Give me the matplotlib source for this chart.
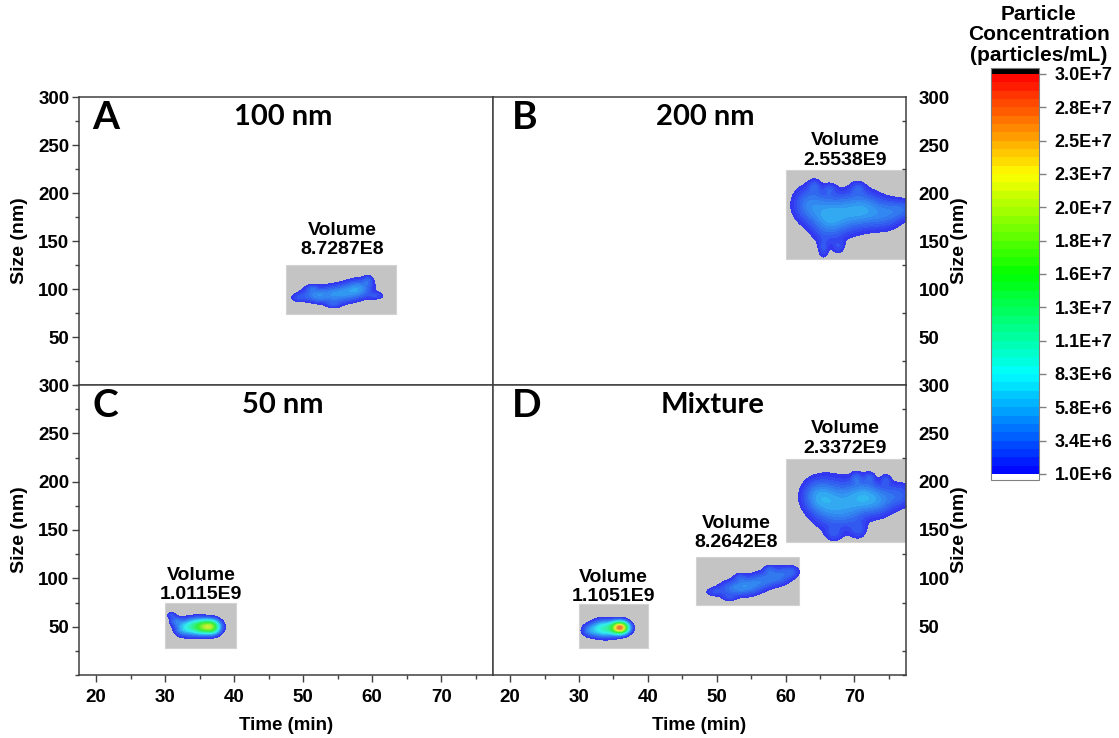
import numpy as np
import matplotlib
matplotlib.use("Agg")
import matplotlib.pyplot as plt
from matplotlib.colors import LinearSegmentedColormap, ListedColormap, Normalize
from matplotlib.patches import Rectangle
from matplotlib.cm import ScalarMappable
from matplotlib.ticker import MultipleLocator

plt.rcParams['font.family'] = ['Liberation Sans', 'DejaVu Sans']
plt.rcParams['font.weight'] = 'bold'

# --- datos ---
panels = ['A', 'B', 'C', 'D']
titles = {'A': '100 nm', 'B': '200 nm', 'C': '50 nm', 'D': 'Mixture'}
title_x = {'A': 47.1, 'B': 48.3, 'C': 47.1, 'D': 49.4}

# zonas integradas (t0, t1, s0, s1)
boxes = {
    'A': [(47.5, 63.5, 74, 125)],
    'B': [(60, 80, 131, 224)],
    'C': [(30, 40.2, 28, 74)],
    'D': [(30, 40, 28, 73), (47, 62, 72, 122), (60, 80, 137.5, 223)],
}

# etiquetas de volumen (t, s, texto)
volumes = {
    'A': [(55.6, 132, '8.7287E8')],
    'B': [(68.7, 225, '2.5538E9')],
    'C': [(35.2, 74, '1.0115E9')],
    'D': [(35.0, 72, '1.1051E9'), (52.8, 128, '8.2642E8'), (68.7, 226, '2.3372E9')],
}

# picos de concentracion (t, size, ancho t, ancho size, conc)
peaks_100 = [(49.3, 91, 0.8, 3.0, 1.8e6), (51.3, 95, 1.3, 5.5, 2.6e6),
             (52.2, 92, 1.0, 4.0, 1.5e6), (54.4, 94, 1.5, 6.5, 3.8e6),
             (56.7, 97, 1.4, 6.5, 2.8e6), (58.3, 101, 1.3, 6.5, 3.5e6),
             (59.4, 109, 0.5, 3.5, 2.0e6), (60.6, 93, 0.8, 2.5, 2.0e6),
             (51.3, 101, 0.5, 2.5, 1.5e6), (54.4, 84, 0.7, 2.5, 1.5e6)]
peaks_200 = [(63.3, 188, 1.6, 13, 3.5e6), (66.2, 174, 1.7, 16, 4.5e6),
             (69.1, 180, 1.7, 14, 3.5e6), (71.6, 183, 1.6, 13, 3.5e6),
             (74.5, 178, 1.7, 11, 3.2e6), (77.2, 183, 1.5, 7, 2.5e6),
             (65.5, 142, 0.5, 7, 1.8e6), (67.7, 144, 0.6, 5, 1.6e6),
             (64.2, 207, 0.6, 5, 1.8e6), (70.5, 205, 0.7, 5, 1.8e6),
             (66.4, 204, 0.6, 4, 1.6e6)]
peaks_50 = [(36.3, 50, 1.0, 4.5, 1.5e7), (34.5, 50, 1.3, 5.5, 1.1e7),
            (37.0, 49, 0.7, 5.0, 4.0e6), (32.5, 48, 0.8, 5.0, 3.5e6),
            (31.5, 56, 0.6, 3.0, 3.0e6), (30.9, 62, 0.45, 2.0, 2.2e6),
            (35.2, 98.5, 0.25, 1.0, 1.2e6)]
peaks_mix = [(36.0, 49, 0.8, 4.0, 2.6e7), (33.8, 48, 1.3, 5.5, 1.0e7),
             (31.6, 46, 0.8, 4.0, 3.0e6),
             (49.6, 86, 0.9, 3.0, 1.8e6), (52.0, 89, 1.4, 5.5, 2.6e6),
             (54.4, 92, 1.5, 6.5, 3.8e6), (56.8, 98, 1.3, 6.0, 2.8e6),
             (59.1, 103, 1.3, 6.5, 3.2e6), (60.9, 107, 0.8, 4.0, 2.0e6),
             (53.4, 101, 0.6, 3.0, 1.5e6), (57.6, 109, 0.5, 3.0, 1.6e6),
             (51.8, 80, 0.7, 2.5, 1.5e6),
             (64.3, 185, 1.5, 12, 3.2e6), (66.3, 178, 1.7, 17, 3.8e6),
             (69.1, 175, 1.7, 16, 3.6e6), (71.3, 186, 1.5, 12, 3.4e6),
             (73.5, 180, 1.6, 11, 3.4e6), (76.6, 186, 1.6, 9, 2.6e6),
             (70.6, 150, 0.8, 6, 1.8e6), (67.0, 146, 0.8, 5, 1.6e6),
             (70.3, 204, 0.5, 4, 1.8e6), (72.2, 204, 0.5, 4, 1.8e6),
             (74.6, 202, 0.5, 4, 1.8e6)]
peaks = {'A': peaks_100, 'B': peaks_200, 'C': peaks_50, 'D': peaks_mix}

cbar_labels = ['1.0E+6', '3.4E+6', '5.8E+6', '8.3E+6', '1.1E+7', '1.3E+7', '1.6E+7',
               '1.8E+7', '2.0E+7', '2.3E+7', '2.5E+7', '2.8E+7', '3.0E+7']
cmin, cmax = 1e6, 3e7

# --- colores ---
rainbow = LinearSegmentedColormap.from_list(
    'rainbow_origin', ['#0000ff', '#00ffff', '#00ff00', '#ffff00', '#ff0000'])
rainbow.set_over('black')
rainbow.set_under('white')
base = rainbow(np.linspace(0, 1, 256))
gray = np.array([0.76, 0.76, 0.78, 1.0])
blob_cmap = ListedColormap(0.74 * base + 0.26 * gray)
levels = np.linspace(cmin, cmax, 49)

# --- figura ---
W, H = 1119, 738
fig = plt.figure(figsize=(W / 100, H / 100), dpi=100)


def px_rect(x0, y0, x1, y1):
    return [x0 / W, 1 - y1 / H, (x1 - x0) / W, (y1 - y0) / H]


pos = {'A': (79, 97, 493, 385), 'B': (493, 97, 906, 385),
       'C': (79, 385, 493, 675), 'D': (493, 385, 906, 675)}

tt = np.arange(17.5, 78.01, 0.25)
ss = np.arange(0, 301, 2.0)
T, S = np.meshgrid(tt, ss)
spine_col = '#404040'

for p in panels:
    ax = fig.add_axes(px_rect(*pos[p]))
    ax.set_xlim(17.5, 77.5)
    ax.set_ylim(0, 300)
    for sp in ax.spines.values():
        sp.set_color(spine_col)
        sp.set_linewidth(1.1)

    for (t0, t1, s0, s1) in boxes[p]:
        ax.add_patch(Rectangle((t0, s0), t1 - t0, s1 - s0, facecolor='#c4c4c4',
                               edgecolor='#d2d2d2', lw=0.8, zorder=1))

    Z = np.zeros_like(T)
    for (t0, s0, wt, ws, a) in peaks[p]:
        Z += a * np.exp(-0.5 * (((T - t0) / wt) ** 2 + ((S - s0) / ws) ** 2))
    ax.contourf(T, S, Z, levels=levels, cmap=blob_cmap, zorder=2)

    for (t, s, txt) in volumes[p]:
        ax.text(t, s, 'Volume\n' + txt, ha='center', va='bottom', fontsize=14,
                linespacing=1.2, zorder=3)

    x_let = 19.4 if p in 'AC' else 20.2
    ax.text(x_let, 279, p, fontsize=28, family=['Lato', 'DejaVu Sans'],
            fontweight='bold', ha='left', va='center')
    ax.text(title_x[p], 279, titles[p], fontsize=21, family=['Lato', 'DejaVu Sans'],
            fontweight='bold', ha='center', va='center')

    ax.set_yticks(np.arange(50, 301, 50))
    ax.yaxis.set_minor_locator(MultipleLocator(25))
    if p in 'AC':
        ax.tick_params(axis='y', which='major', direction='out', length=5,
                       width=1, color=spine_col, labelsize=13.5, pad=2)
        ax.tick_params(axis='y', which='minor', direction='out', length=3,
                       width=1, color=spine_col)
    else:
        ax.yaxis.tick_right()
        ax.tick_params(axis='y', which='major', direction='in', length=0,
                       labelsize=13.5, pad=9)
        ax.tick_params(axis='y', which='minor', direction='in', length=3,
                       width=1, color=spine_col)

    if p in 'CD':
        ax.set_xticks(np.arange(20, 71, 10))
        ax.xaxis.set_minor_locator(MultipleLocator(5))
        ax.tick_params(axis='x', which='major', direction='out', length=5,
                       width=1, color=spine_col, labelsize=13.5, pad=5)
        ax.tick_params(axis='x', which='minor', direction='out', length=3,
                       width=1, color=spine_col)
    else:
        ax.tick_params(axis='x', which='both', bottom=False, labelbottom=False)

# etiquetas de ejes
for yc in [241, 530]:
    fig.text(19 / W, 1 - yc / H, 'Size (nm)', rotation=90, ha='center', va='center',
             fontsize=14)
    fig.text(960 / W, 1 - yc / H, 'Size (nm)', rotation=90, ha='center', va='center',
             fontsize=14)
for xc in [286, 699.5]:
    fig.text(xc / W, 1 - 725 / H, 'Time (min)', ha='center', va='center', fontsize=13.5)

# barra de color
cax = fig.add_axes(px_rect(990.7, 68, 1039.3, 480))
sm = ScalarMappable(norm=Normalize(cmin, cmax), cmap=rainbow)
cb = fig.colorbar(sm, cax=cax, extend='both', extendrect=True, extendfrac=0.015,
                  boundaries=levels)
cb.set_ticks(np.linspace(cmin, cmax, len(cbar_labels)))
cb.set_ticklabels(cbar_labels)
cb.ax.tick_params(labelsize=13, length=5, width=1, color='#808080', pad=6)
cb.outline.set_edgecolor('#808080')
fig.text(1039 / W, 1 - 35 / H, 'Particle\nConcentration\n(particles/mL)', ha='center',
         va='center', fontsize=15, linespacing=1.08)

fig.savefig('out.png', dpi=100)
